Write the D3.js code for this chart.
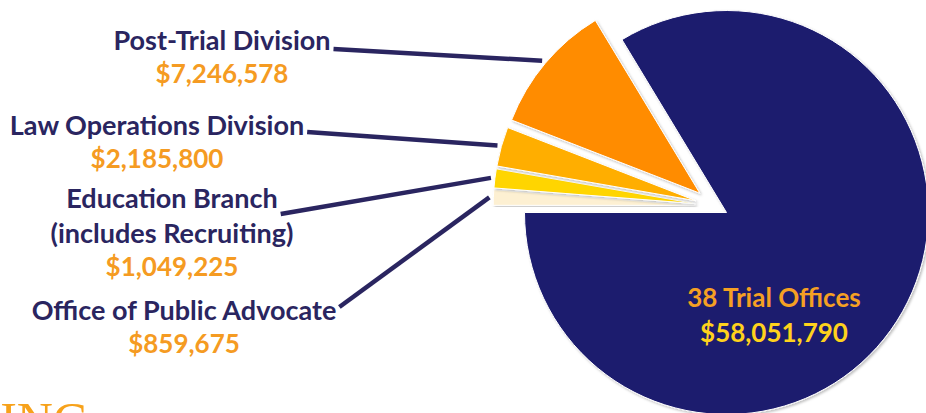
<!DOCTYPE html>
<html>
<head>
<meta charset="utf-8">
<script src="https://cdn.jsdelivr.net/npm/d3@7"></script>
<style>
  body { margin: 0; background: #fff; }
  svg { display: block; }
  .name { font-family: Lato, "Open Sans", sans-serif; font-weight: 700; fill: #2a2560; }
  .amount { font-family: Lato, "Open Sans", sans-serif; font-weight: 700; fill: #f59b22; }
</style>
</head>
<body>
<div id="chart"></div>
<script>
// budget split, pie drawn clockwise starting with the trial offices
const categories = ["38 Trial Offices", "Office of Public Advocate", "Education Branch|(includes Recruiting)", "Law Operations Division", "Post-Trial Division"];
const amounts = [58051790, 859675, 1049225, 2185800, 7246578];
const amountLabels = ["$58,051,790", "$859,675", "$1,049,225", "$2,185,800", "$7,246,578"];

const width = 926, height = 413;
const colors = ["#1b1a6e", "#fdf0d2", "#ffd500", "#ffae00", "#ff8c00"];
const cx = 726.5, cy = 212.5, radius = 202;

const svg = d3.select("#chart").append("svg")
    .attr("width", width)
    .attr("height", height);

// soft shadow like the slide
const defs = svg.append("defs");
defs.append("filter").attr("id", "shadow")
    .attr("x", "-10%").attr("y", "-10%").attr("width", "120%").attr("height", "120%")
  .append("feDropShadow")
    .attr("dx", 1.5).attr("dy", 1.5).attr("stdDeviation", 1)
    .attr("flood-color", "#000").attr("flood-opacity", 0.25);

const total = d3.sum(amounts);
const start = 1.5 * Math.PI - amounts[0] / total * 2 * Math.PI;

const pie = d3.pie().sort(null).startAngle(start).endAngle(start + 2 * Math.PI);
const arcs = pie(amounts);
const arc = d3.arc().innerRadius(0).outerRadius(radius);

// the small slices are pulled out as a group, then a bit more each
const groupMid = (arcs[0].endAngle + arcs[0].startAngle + 2 * Math.PI) / 2;
function offset(d, i) {
    if (i === 0) return [0, 0];
    const m = (d.startAngle + d.endAngle) / 2;
    return [13 * Math.sin(groupMid) + 20 * Math.sin(m), -13 * Math.cos(groupMid) - 20 * Math.cos(m)];
}

const pieG = svg.append("g").attr("transform", "translate(" + cx + "," + cy + ")");

pieG.selectAll("path")
    .data(arcs)
    .enter().append("path")
    .attr("transform", (d, i) => "translate(" + offset(d, i) + ")")
    .attr("d", arc)
    .attr("fill", (d, i) => colors[i])
    .attr("stroke", "#fff")
    .attr("stroke-width", 1)
    .attr("filter", "url(#shadow)");

// labels for the small slices, placed to the left
const labelLayout = {
    4: {x: 222, y: 50, lineY: -1},
    3: {x: 157, y: 135, lineY: -3},
    2: {x: 172, y: 208, lineY: 6},
    1: {x: 184, y: 320, lineY: -13}
};
const nameSize = 27, amountSize = 26, lineGap = 35;

[4, 3, 2, 1].forEach(i => {
    const L = labelLayout[i];
    const lines = categories[i].split("|");
    const g = svg.append("g");
    let firstWidth = 0;
    lines.forEach((t, k) => {
        const txt = g.append("text")
            .attr("class", "name")
            .attr("x", L.x).attr("y", L.y + k * lineGap)
            .attr("text-anchor", "middle")
            .attr("font-size", nameSize)
            .text(t);
        if (k === 0) firstWidth = txt.node().getComputedTextLength();
    });
    g.append("text")
        .attr("class", "amount")
        .attr("x", L.x).attr("y", L.y + lines.length * lineGap - 2)
        .attr("text-anchor", "middle")
        .attr("font-size", amountSize)
        .text(amountLabels[i]);

    // leader line from the label to just outside the slice
    const d = arcs[i];
    const m = (d.startAngle + d.endAngle) / 2;
    const o = offset(d, i);
    const ex = cx + o[0] + (radius + 4) * Math.sin(m);
    const ey = cy + o[1] - (radius + 4) * Math.cos(m);
    svg.append("line")
        .attr("x1", L.x + firstWidth / 2 + 3).attr("y1", L.y + L.lineY)
        .attr("x2", ex).attr("y2", ey)
        .attr("stroke", "#2a2560")
        .attr("stroke-width", 4.5);
});

// label inside the big slice
svg.append("text")
    .attr("class", "amount")
    .attr("x", 774).attr("y", 307)
    .attr("text-anchor", "middle")
    .attr("font-size", amountSize)
    .style("fill", "#f5a023")
    .text(categories[0]);
svg.append("text")
    .attr("class", "amount")
    .attr("x", 774).attr("y", 342)
    .attr("text-anchor", "middle")
    .attr("font-size", amountSize)
    .style("fill", "#ffd21c")
    .text(amountLabels[0]);

// slide title peeking in at the bottom
svg.append("text")
    .attr("x", 89).attr("y", 437)
    .attr("text-anchor", "end")
    .attr("font-family", "'Liberation Serif', 'DejaVu Serif', serif")
    .attr("font-size", 50)
    .attr("fill", "#f7a21b")
    .text("FUNDING");
</script>
</body>
</html>
